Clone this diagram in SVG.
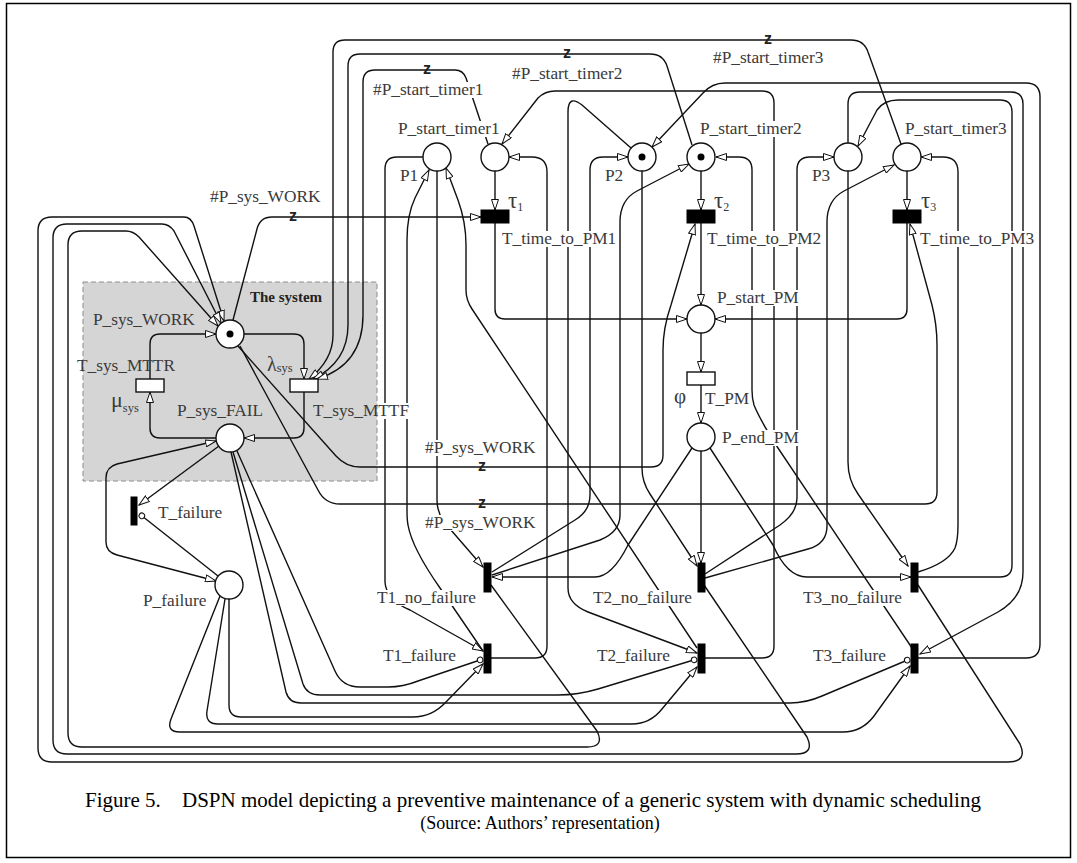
<svg xmlns="http://www.w3.org/2000/svg" width="1077" height="863" viewBox="0 0 1077 863">
<defs>
<marker id="arr" viewBox="0 0 12 8" refX="11" refY="4" markerWidth="12" markerHeight="8" markerUnits="userSpaceOnUse" orient="auto">
<path d="M0.5,0.5 L11,4 L0.5,7.5 Z" fill="#fff" stroke="#111" stroke-width="1"/>
</marker>
<marker id="inh" viewBox="0 0 8 8" refX="7" refY="4" markerWidth="8" markerHeight="8" markerUnits="userSpaceOnUse" orient="auto">
<circle cx="4" cy="4" r="2.8" fill="#fff" stroke="#111" stroke-width="1"/>
</marker>
<style>
.arc path{fill:none;stroke:#111;stroke-width:1.4;stroke-linejoin:round}
.a{marker-end:url(#arr)}
.i{marker-end:url(#inh)}
.pl{fill:#fff;stroke:#111;stroke-width:1.4}
.tk{fill:#000}
.tt{fill:#000;stroke:#000;stroke-width:1}
.tw{fill:#fff;stroke:#111;stroke-width:1.4}
.lbl{font-family:"Liberation Serif","Times New Roman",serif;font-size:17.3px;fill:#3a3a3a}
.gr{font-family:"Liberation Serif","Times New Roman",serif;fill:#3a3a3a}
.bg{fill:#fff}
.zz{font-family:"Liberation Sans",Arial,sans-serif;font-weight:bold;font-size:16px;fill:#222;text-anchor:middle}
.cap{font-family:"Liberation Serif","Times New Roman",serif;font-size:21px;fill:#000}
</style>
</defs>
<rect x="0" y="0" width="1077" height="863" fill="#fff"/>
<rect x="6.5" y="3.5" width="1064" height="854" fill="none" stroke="#000" stroke-width="1.5"/>
<g id="system-box">
<rect x="83" y="282" width="294" height="199" fill="#d5d5d5" stroke="#8c8c8c" stroke-width="1" stroke-dasharray="5,3"/>
<text x="250" y="302" style="font-family:'Liberation Serif',serif;font-weight:bold;font-size:15px;fill:#222">The system</text>
</g>
<g id="connectors" class="arc">
<path class="a" d="M495,171 V210"/>
<path class="a" d="M701,171 V210"/>
<path class="a" d="M907,171 V210"/>
<path class="a" d="M495,223 V309 Q495,319 505,319 H687"/>
<path class="a" d="M701,223 V305"/>
<path class="a" d="M907,223 V309 Q907,319 897,319 H715"/>
<path class="a" d="M701,333 V372"/>
<path class="a" d="M701,385 V423"/>
<path class="a" d="M244,334 H294 Q304,334 304,344 V379"/>
<path class="a" d="M304,392 V428 Q304,438 294,438 H244"/>
<path class="a" d="M216,438 H160 Q150,438 150,428 V392"/>
<path class="a" d="M150,379 V344 Q150,334 160,334 H216"/>
<path class="a" d="M901,144 L868,52 Q864,40 851,40 H345 Q333,40 333,52 V335 Q333,360 309,379"/>
<path class="a" d="M692,145 L667,66 Q663,54 650,54 H360 Q348,54 348,66 V325 Q348,362 313,379"/>
<path class="a" d="M488,144 L466,78 Q463,70 455,70 H375 Q363,70 363,82 V315 Q363,365 317,379"/>
<path class="a" d="M233,320 L257,229 Q260,217 272,217 H481"/>
<path class="a" d="M238,346 L336,456 Q346,467 360,467 H651 Q663,467 663,455 V350 Q663,328 671,305 L695,224"/>
<path class="a" d="M240,346 L318,490 Q325,504 340,504 H925 Q937,504 937,492 V345 Q937,325 932,305 L910,224"/>
<path class="a" d="M918,585 L1020,744 Q1028,762 1008,762 H52 Q38,762 38,748 V231 Q38,217 52,217 H184 Q191,217 194,226 L224,321"/>
<path class="a" d="M704,585 L807,737 Q815,754 796,754 H67 Q53,754 53,740 V238 Q53,224 67,224 H162 Q169,224 174,231 L221,323"/>
<path class="a" d="M491,585 L597,731 Q605,747 587,747 H82 Q68,747 68,733 V245 Q68,231 82,231 H126 Q133,231 139,237 L218,326"/>
<path class="a" d="M219,446 L139,505"/>
<path class="a" d="M106,510 V478 Q106,467 117,464 L216,441"/>
<path class="a" d="M106,510 V542 Q106,552 117,555 L216,581"/>
<path class="i" d="M218,576 L139.5,514"/>
<path class="a" d="M229,599 V705 Q229,717 241,717 H413 Q432,717 446,702 L483,664"/>
<path class="a" d="M225,599 L207,711 Q205,724 218,724 H632 Q650,724 662,709 L697,667"/>
<path class="a" d="M220,596 L171,719 Q166,732 180,732 H843 Q862,732 874,716 L910,666"/>
<path class="i" d="M237,451 L335,671 Q342,687 360,687 H388 Q403,687 418,681 L483,659"/>
<path class="i" d="M233,452 L303,684 Q307,695 320,695 H558 Q578,695 598,689 L697,659"/>
<path class="i" d="M231,452 L286,692 Q289,703 301,703 H790 Q806,703 822,696 L910,659"/>
<path class="a" d="M423,157 H397 Q385,157 385,169 V582 Q386,600 410,610 L483,651"/>
<path class="a" d="M483,651 L440,588 Q412,548 408,525 Q407,520 407,510 V240 Q407,215 415,198 L429,170"/>
<path class="a" d="M437,171 V500 Q437,512 444,522 L483,567"/>
<path class="a" d="M697,648 L472,309 Q466,300 466,290 V245 Q466,222 458,200 L446,168"/>
<path class="a" d="M491,658 H535 Q547,658 547,646 V172 Q547,157 532,157 H509"/>
<path class="a" d="M631,148 L582,105 Q568,94 568,112 V588 Q568,604 588,612 L697,653"/>
<path class="a" d="M492,572 L575,520 Q590,511 590,495 V170 Q590,157 603,157 H628"/>
<path class="a" d="M492,575 L600,540 Q620,532 620,515 V222 Q620,200 637,191 L689,164"/>
<path class="a" d="M642,171 V468 Q642,482 650,494 L697,566"/>
<path class="a" d="M701,451 V563"/>
<path class="a" d="M692,448 L628,545 Q612,577 595,577 H492"/>
<path class="a" d="M710,448 L773,545 Q787,577 807,577 H911"/>
<path class="a" d="M912,648 L778,448 Q760,420 754,405 Q752,398 752,390 V170 Q752,157 739,157 H716"/>
<path class="a" d="M705,658 H762 Q774,658 774,646 V103 Q774,91 762,91 H555 Q545,91 538,98 L502,144"/>
<path class="a" d="M918,658 H1026 Q1040,658 1040,644 V97 Q1040,83 1026,83 H725 Q712,83 703,93 L652,147"/>
<path class="a" d="M848,143 V104 Q848,92 860,92 H1011 Q1023,92 1023,104 V572 Q1023,598 998,612 L920,654"/>
<path class="a" d="M918,577 H1000 Q1012,577 1012,565 V112 Q1012,100 1000,100 H898 Q884,100 877,110 L858,146"/>
<path class="a" d="M918,572 Q948,563 955,548 Q958,540 958,525 V172 Q958,157 943,157 H921"/>
<path class="a" d="M705,574 L780,525 Q797,513 797,498 V170 Q797,157 810,157 H834"/>
<path class="a" d="M705,578 L808,549 Q827,544 827,526 V222 Q827,200 844,191 L894,165"/>
<path class="a" d="M848,171 V462 Q848,480 858,494 L908,566"/>
</g>
<g id="arc-labels">
<text class="zz" x="768" y="44">z</text>
<text class="zz" x="567" y="58">z</text>
<text class="zz" x="427" y="74">z</text>
<text class="zz" x="293" y="221">z</text>
<text class="zz" x="482" y="471">z</text>
<text class="zz" x="482" y="508">z</text>
<rect class="bg" x="712" y="50" width="114" height="16"/>
<text class="lbl" x="713" y="63">#P_start_timer3</text>
<rect class="bg" x="511" y="66" width="115" height="16"/>
<text class="lbl" x="512" y="79">#P_start_timer2</text>
<rect class="bg" x="372" y="82" width="112" height="16"/>
<text class="lbl" x="373" y="95">#P_start_timer1</text>
<rect class="bg" x="209" y="189" width="112" height="16"/>
<text class="lbl" x="210" y="202">#P_sys_WORK</text>
<rect class="bg" x="424" y="440" width="114" height="16"/>
<text class="lbl" x="425" y="453">#P_sys_WORK</text>
<rect class="bg" x="424" y="515" width="114" height="16"/>
<text class="lbl" x="425" y="528">#P_sys_WORK</text>
</g>
<g id="P1"><circle class="pl" cx="437" cy="157" r="14"/><rect class="bg" x="399" y="168" width="19" height="15"/><text class="lbl" x="400" y="181">P1</text></g>
<g id="P_start_timer1"><circle class="pl" cx="495" cy="157" r="14"/><rect class="bg" x="397" y="121" width="106" height="16"/><text class="lbl" x="398" y="134">P_start_timer1</text></g>
<g id="P2"><circle class="pl" cx="642" cy="157" r="14"/><circle class="tk" cx="642" cy="157" r="3.5"/><rect class="bg" x="604" y="168" width="19" height="15"/><text class="lbl" x="605" y="181">P2</text></g>
<g id="P_start_timer2"><circle class="pl" cx="701" cy="157" r="14"/><circle class="tk" cx="701" cy="157" r="3.5"/><rect class="bg" x="699" y="121" width="105" height="16"/><text class="lbl" x="700" y="134">P_start_timer2</text></g>
<g id="P3"><circle class="pl" cx="848" cy="157" r="14"/><rect class="bg" x="811" y="168" width="19" height="15"/><text class="lbl" x="812" y="181">P3</text></g>
<g id="P_start_timer3"><circle class="pl" cx="907" cy="157" r="14"/><rect class="bg" x="904" y="121" width="105" height="16"/><text class="lbl" x="905" y="134">P_start_timer3</text></g>
<g id="T_time_to_PM1"><rect class="tt" x="481" y="210" width="28" height="13"/><text class="gr" x="508" y="208" font-size="23">τ<tspan font-size="12" dy="3">1</tspan></text><rect class="bg" x="501" y="231" width="116" height="16"/><text class="lbl" x="502" y="244">T_time_to_PM1</text></g>
<g id="T_time_to_PM2"><rect class="tt" x="687" y="210" width="28" height="13"/><text class="gr" x="714" y="208" font-size="23">τ<tspan font-size="12" dy="3">2</tspan></text><rect class="bg" x="706" y="231" width="117" height="16"/><text class="lbl" x="707" y="244">T_time_to_PM2</text></g>
<g id="T_time_to_PM3"><rect class="tt" x="893" y="210" width="28" height="13"/><text class="gr" x="921" y="208" font-size="23">τ<tspan font-size="12" dy="3">3</tspan></text><rect class="bg" x="919" y="231" width="117" height="16"/><text class="lbl" x="920" y="244">T_time_to_PM3</text></g>
<g id="P_start_PM"><circle class="pl" cx="701" cy="319" r="14"/><rect class="bg" x="716" y="290" width="86" height="16"/><text class="lbl" x="717" y="303">P_start_PM</text></g>
<g id="T_PM"><rect class="tw" x="687" y="372" width="28" height="13"/><text class="gr" x="674" y="403" font-size="21">φ</text><rect class="bg" x="704" y="391" width="47" height="16"/><text class="lbl" x="705" y="404">T_PM</text></g>
<g id="P_end_PM"><circle class="pl" cx="701" cy="437" r="14"/><rect class="bg" x="721" y="430" width="81" height="16"/><text class="lbl" x="722" y="443">P_end_PM</text></g>
<g id="P_sys_WORK"><circle class="pl" cx="230" cy="334" r="14"/><circle class="tk" cx="230" cy="334" r="3.5"/><text class="lbl" x="93" y="325">P_sys_WORK</text></g>
<g id="P_sys_FAIL"><circle class="pl" cx="230" cy="438" r="14"/><text class="lbl" x="177" y="416">P_sys_FAIL</text></g>
<g id="T_sys_MTTR"><rect class="tw" x="136" y="379" width="28" height="13"/><text class="lbl" x="77" y="371">T_sys_MTTR</text><text class="gr" x="111" y="407" font-size="22">μ<tspan font-size="12.5" dy="5">sys</tspan></text></g>
<g id="T_sys_MTTF"><rect class="tw" x="290" y="379" width="28" height="13"/><text class="gr" x="267" y="371" font-size="20">λ<tspan font-size="12.5" dy="1">sys</tspan></text><rect class="bg" x="378" y="403" width="32" height="16"/><text class="lbl" x="313" y="416">T_sys_MTTF</text></g>
<g id="T_failure"><rect class="tt" x="131" y="497" width="6" height="28"/><rect class="bg" x="157" y="505" width="68" height="16"/><text class="lbl" x="158" y="518">T_failure</text></g>
<g id="P_failure"><circle class="pl" cx="229" cy="585" r="14"/><rect class="bg" x="142" y="593" width="67" height="16"/><text class="lbl" x="143" y="606">P_failure</text></g>
<g id="T1_no_failure"><rect class="tt" x="484" y="563" width="7" height="29"/><rect class="bg" x="376" y="590" width="101" height="16"/><text class="lbl" x="377" y="603">T1_no_failure</text></g>
<g id="T1_failure"><rect class="tt" x="484" y="644" width="7" height="29"/><rect class="bg" x="382" y="648" width="77" height="16"/><text class="lbl" x="383" y="661">T1_failure</text></g>
<g id="T2_no_failure"><rect class="tt" x="698" y="563" width="7" height="29"/><rect class="bg" x="592" y="590" width="102" height="16"/><text class="lbl" x="593" y="603">T2_no_failure</text></g>
<g id="T2_failure"><rect class="tt" x="698" y="644" width="7" height="29"/><rect class="bg" x="596" y="648" width="74" height="16"/><text class="lbl" x="597" y="661">T2_failure</text></g>
<g id="T3_no_failure"><rect class="tt" x="911" y="563" width="7" height="29"/><rect class="bg" x="802" y="590" width="102" height="16"/><text class="lbl" x="803" y="603">T3_no_failure</text></g>
<g id="T3_failure"><rect class="tt" x="911" y="644" width="7" height="29"/><rect class="bg" x="812" y="648" width="75" height="16"/><text class="lbl" x="813" y="661">T3_failure</text></g>
<g id="caption">
<text class="cap" x="85" y="807">Figure 5.</text>
<text class="cap" x="182" y="807">DSPN model depicting a preventive maintenance of a generic system with dynamic scheduling</text>
<text class="cap" x="540" y="829" text-anchor="middle" style="font-size:18px">(Source: Authors’ representation)</text>
</g>
</svg>
